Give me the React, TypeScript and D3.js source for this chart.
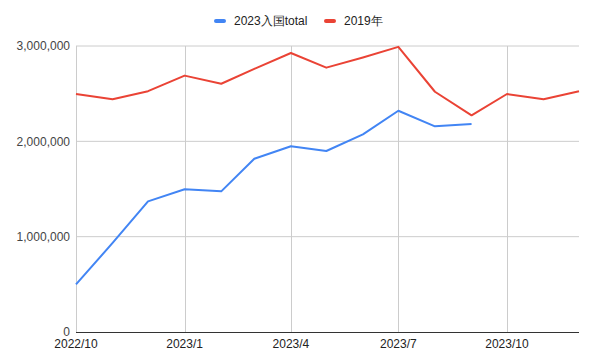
import React from "react";
import * as d3 from "d3";

const months: string[] = [
  "2022-10", "2022-11", "2022-12", "2023-01", "2023-02", "2023-03", "2023-04", "2023-05",
  "2023-06", "2023-07", "2023-08", "2023-09", "2023-10", "2023-11", "2023-12",
];
const arrivals2023: (number | null)[] = [
  498646, 934599, 1370100, 1497300, 1475300, 1817500, 1949100, 1898900,
  2073300, 2320600, 2157500, 2182300, null, null, null,
];
const arrivals2019: number[] = [
  2496568, 2441274, 2526387, 2689339, 2604322, 2760136, 2926685, 2773091,
  2880041, 2991189, 2520134, 2272883, 2496568, 2441274, 2526387,
];
const yTicks: number[] = [0, 1000000, 2000000, 3000000];
const xTickMonths: string[] = ["2022-10", "2023-01", "2023-04", "2023-07", "2023-10"];
const seriesNames: string[] = ["2023入国total", "2019年"];
const colors: string[] = ["#4285F4", "#EA4335"];

const W = 595, H = 364;
const margin = { left: 76, right: 16, top: 46, bottom: 32 };
const parse = d3.timeParse("%Y-%m");
const font = "Arial, 'Liberation Sans', sans-serif";

export default function App() {
  const dates = months.map((m) => parse(m) as Date);
  const x = d3.scaleTime().domain([dates[0], dates[dates.length - 1]]).range([margin.left, W - margin.right]);
  const y = d3.scaleLinear().domain([0, 3000000]).range([H - margin.bottom, margin.top]);
  const fmt = d3.format(",");
  const line = d3
    .line<[Date, number | null]>()
    .defined((d) => d[1] != null)
    .x((d) => x(d[0]))
    .y((d) => y(d[1] as number));
  const s1 = dates.map((d, i) => [d, arrivals2023[i]] as [Date, number | null]);
  const s2 = dates.map((d, i) => [d, arrivals2019[i]] as [Date, number | null]);
  const xFmt = d3.timeFormat("%Y/%-m");

  return (
    <svg width={W} height={H} style={{ position: "absolute", left: 0, top: 0 }}>
      <rect width={W} height={H} fill="#fff" />
      {yTicks.map((t) => (
        <g key={t}>
          {t > 0 && (
            <line x1={margin.left} x2={W - margin.right} y1={y(t)} y2={y(t)} stroke="#cccccc" strokeWidth={1} />
          )}
          <text x={margin.left - 6} y={y(t)} dy="0.35em" textAnchor="end" fontSize={12} fill="#444" fontFamily={font}>
            {fmt(t)}
          </text>
        </g>
      ))}
      {xTickMonths.map((m) => {
        const d = parse(m) as Date;
        const xx = Math.round(x(d)) + 0.5;
        return (
          <g key={m}>
            <line x1={xx} x2={xx} y1={margin.top} y2={H - margin.bottom} stroke="#cccccc" strokeWidth={1} />
            <text x={x(d)} y={H - margin.bottom + 16} textAnchor="middle" fontSize={12} fill="#222" fontFamily={font}>
              {xFmt(d)}
            </text>
          </g>
        );
      })}
      <line x1={margin.left} x2={W - margin.right} y1={y(0) + 0.5} y2={y(0) + 0.5} stroke="#333" strokeWidth={1} />
      <path d={line(s1) || ""} fill="none" stroke={colors[0]} strokeWidth={2} strokeLinejoin="round" />
      <path d={line(s2) || ""} fill="none" stroke={colors[1]} strokeWidth={2} strokeLinejoin="round" />
      <g fontFamily={font} fontSize={12} fill="#222">
        <rect x={214} y={19} width={12} height={4} rx={2} fill={colors[0]} />
        <text x={234} y={21} dy="0.35em">{seriesNames[0]}</text>
        <rect x={324} y={19} width={12} height={4} rx={2} fill={colors[1]} />
        <text x={344} y={21} dy="0.35em">{seriesNames[1]}</text>
      </g>
    </svg>
  );
}
